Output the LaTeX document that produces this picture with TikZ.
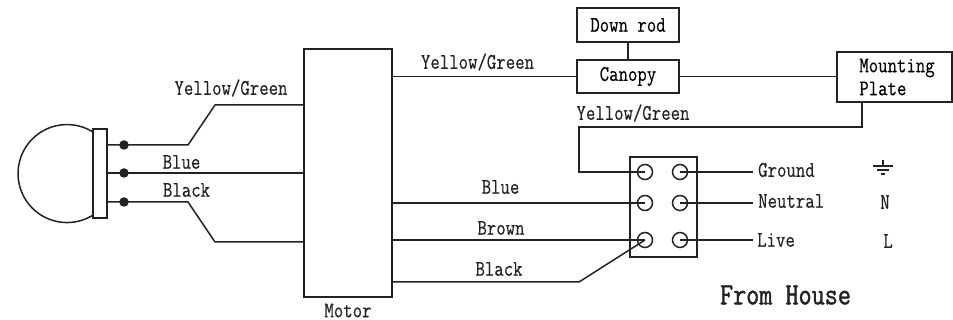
\documentclass[tikz,border=0pt]{standalone}
\usepackage{fontspec}
\newfontfamily\wirefont[FakeStretch=0.82,FakeBold=0.4]{Latin Modern Mono}
\newfontfamily\housefont[FakeStretch=0.82,FakeBold=1.2]{Latin Modern Mono}
\definecolor{ink}{HTML}{222222}
\tikzset{
  wire/.style={draw=ink,line width=1.5pt},
  box/.style={draw=ink,line width=1.5pt,inner sep=0pt,font=\wirefont\fontsize{22.3}{23}\selectfont},
  lbl/.style={text=ink,inner sep=0pt,font=\wirefont\fontsize{22.3}{23}\selectfont},
  dot/.style={circle,fill=ink,inner sep=0pt,minimum size=9.5pt},
  term/.style={circle,draw=ink,line width=1.5pt,inner sep=0pt,minimum size=15pt},
}
\begin{document}
\begin{tikzpicture}[x=1pt,y=-1pt]
\useasboundingbox (0,0) rectangle (953,320);

% boxes
\node[box,minimum width=14pt,minimum height=89pt] (plug) at (100,173.5) {};
\node[box,minimum width=88pt,minimum height=248pt] (motor) at (348,173) {};
\node[box,minimum width=102pt,minimum height=34pt] (rod) at (628,25) {Down rod};
\node[box,minimum width=102pt,minimum height=33pt] (canopy) at (628,76.5) {Canopy};
\node[box,minimum width=115pt,minimum height=50pt,align=left] (plate) at (894.5,77) {\hspace*{5pt}Mounting\\\hspace*{5pt}Plate};
\node[box,minimum width=67pt,minimum height=100pt] (block) at (663.5,207) {};

% fan body
\draw[wire] (93,132) arc[start angle=-58,end angle=-302,radius=49];

% terminals
\foreach \name/\x/\y in {tgl/645/172,tgr/680/172,tnl/645/203,tnr/680/203,tll/645/240,tlr/680/240} {
\node[term] (\name) at (\x,\y) {};}
\foreach \name/\y in {dota/145,dotb/173,dotc/202} {
\node[dot] (\name) at (124,\y) {};}

% bends
\coordinate (benda) at (188,145);
\coordinate (bendb) at (215,105);
\coordinate (bendc) at (188,202);
\coordinate (bendd) at (215,242);
\coordinate (bende) at (579,127);
\coordinate (bendf) at (579,282);
\coordinate (groundend) at (753,172);
\coordinate (neutralend) at (753,203);
\coordinate (liveend) at (753,240);

% wires on the left
\draw[wire] (plug.east |- dota) -- (benda) -- (bendb) -- (motor.west |- bendb);
\draw[wire] (plug.east |- dotb) -- (motor.west |- dotb);
\draw[wire] (plug.east |- dotc) -- (bendc) -- (bendd) -- (motor.west |- bendd);

% wires on the right
\draw[wire] (motor.east |- canopy) -- (canopy.west);
\draw[wire] (rod) -- (canopy);
\draw[wire] (canopy.east) -- (plate.west |- canopy);
\draw[wire] (plate.south -| 862,0) -- (862,127) -- (bende) -- (bende |- tgl) -- (tgl.center);
\draw[wire] (motor.east |- tnl) -- (tnl.center);
\draw[wire] (motor.east |- tll) -- (tll.center);
\draw[wire] (motor.east |- bendf) -- (bendf) -- (tll.center);
\draw[wire] (tgr.center) -- (groundend);
\draw[wire] (tnr.center) -- (neutralend);
\draw[wire] (tlr.center) -- (liveend);

% ground sign
\coordinate (earthtop) at (883,160);
\coordinate (earthmid) at (883,166);
\draw[wire] (earthtop) -- (earthmid);
\draw[wire] (873,166) -- (893,166);
\draw[wire] (877,170) -- (889,170);
\draw[wire] (881,174) -- (885,174);

% labels
\node[lbl] (lyga) at (231,88) {Yellow/Green};
\node[lbl] (lblua) at (181.5,162) {Blue};
\node[lbl] (lblka) at (186.5,190) {Black};
\node[lbl] (lygb) at (477.5,62) {Yellow/Green};
\node[lbl] (lygc) at (633,113) {Yellow/Green};
\node[lbl] (lblub) at (500.5,187) {Blue};
\node[lbl] (lbrn) at (501,228) {Brown};
\node[lbl] (lblkb) at (499,269) {Black};
\node[lbl] (lmotor) at (348,310.5) {Motor};
\node[lbl,anchor=west] (lground) at (758,170) {Ground};
\node[lbl,anchor=west] (lneutral) at (758,201) {Neutral};
\node[lbl,anchor=west] (llive) at (757,240) {Live};
\node[lbl] (ln) at (885,202) {N};
\node[lbl] (ll) at (888,241) {L};
\node[lbl,font=\housefont\fontsize{31}{33}\selectfont] (lhouse) at (785.5,295) {From House};

\end{tikzpicture}
\end{document}
